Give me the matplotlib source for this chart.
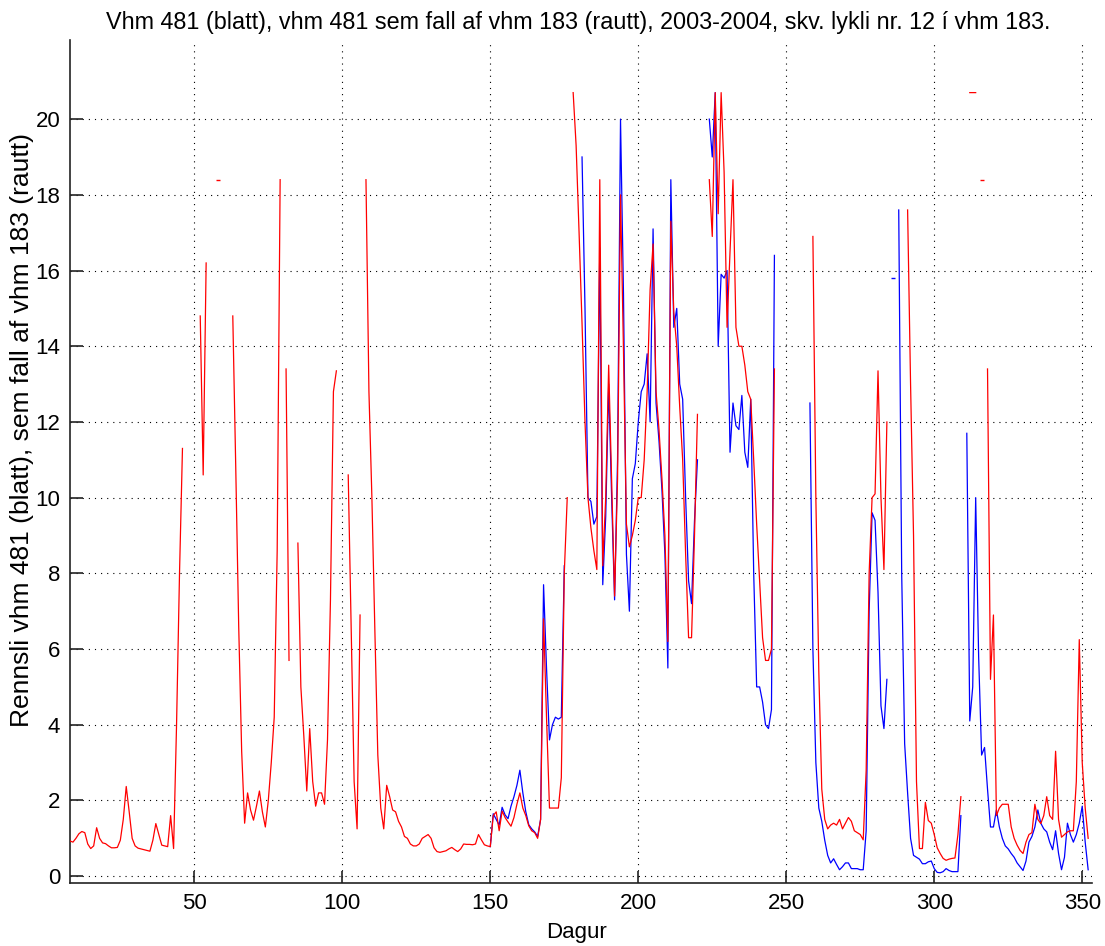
import numpy as np
import matplotlib
matplotlib.use("Agg")
import matplotlib.pyplot as plt

nan = np.nan

# ---- data (daily values) ----
red_start = 8
red = [
    0.93, 0.90, 1.00, 1.12, 1.18, 1.15, 0.85, 0.73, 0.80, 1.28,   # 8-17
    1.00, 0.88, 0.86, 0.80, 0.75, 0.75, 0.76, 0.95, 1.50, 2.37,   # 18-27
    1.70, 1.00, 0.80, 0.74, 0.72, 0.70, 0.68, 0.66, 0.95, 1.39,   # 28-37
    1.10, 0.82, 0.80, 0.78, 1.60, 0.73, 4.00, 8.00, 11.30, nan,   # 38-47
    nan, nan, nan, nan, 14.8, 10.6, 16.2, nan, nan, nan,          # 48-57
    18.4, nan, nan, nan, nan, 14.8, 10.8, 6.6, 3.3, 1.4,          # 58-67
    2.2, 1.75, 1.48, 1.85, 2.25, 1.7, 1.3, 2.0, 3.0, 4.2,         # 68-77
    8.6, 18.4, nan, 13.4, 5.7, nan, nan, 8.8, 5.0, 3.7,           # 78-87
    2.25, 3.9, 2.5, 1.85, 2.2, 2.2, 1.9, 3.6, 7.3, 12.8,          # 88-97
    13.35, nan, nan, nan, 10.6, 6.5, 2.5, 1.25, 6.9, nan,         # 98-107
    18.4, 12.8, 10.0, 6.5, 3.2, 1.8, 1.25, 2.4, 2.1, 1.75,        # 108-117
    1.7, 1.45, 1.3, 1.05, 1.0, 0.85, 0.8, 0.8, 0.85, 1.0,         # 118-127
    1.05, 1.1, 1.0, 0.75, 0.65, 0.63, 0.65, 0.67, 0.72, 0.76,     # 128-137
    0.70, 0.65, 0.72, 0.85, 0.84, 0.84, 0.83, 0.85, 1.10, 0.96,   # 138-147
    0.83, 0.80, 0.78, 1.6, 1.7, 1.2, 1.72, 1.55, 1.43, 1.32,      # 148-157
    1.55, 1.9, 2.2, 1.8, 1.6, 1.33, 1.2, 1.15, 1.0, 1.5,          # 158-167
    6.8, 4.2, 1.8, 1.8, 1.8, 1.8, 2.6, 8.0, 10.0, nan,            # 168-177
    20.7, 19.3, 17.0, 14.6, 12.0, 10.0, 9.2, 8.6, 8.1, 18.4,      # 178-187
    8.2, 10.0, 13.5, 10.5, 7.4, 10.5, 18.0, 13.9, 9.3, 8.7,       # 188-197
    9.0, 9.4, 10.0, 10.0, 11.0, 12.8, 15.5, 16.7, 12.8, 11.8,     # 198-207
    10.5, 9.0, 6.2, 17.3, 14.9, 14.0, 12.4, 11.0, 8.5, 6.3,       # 208-217
    6.3, 9.0, 12.2, nan, nan, nan, 18.4, 16.9, 20.7, 17.5,        # 218-227
    20.7, 18.6, 14.5, 16.5, 18.4, 14.5, 14.0, 14.0, 13.5, 12.8,   # 228-237
    12.6, 11.0, 9.3, 7.8, 6.3, 5.7, 5.7, 6.0, 13.4, nan,          # 238-247
    nan, nan, nan, nan, nan, nan, nan, nan, nan, nan,             # 248-257
    nan, 16.9, 10.0, 5.4, 2.3, 1.5, 1.25, 1.35, 1.4, 1.35,        # 258-267
    1.5, 1.25, 1.4, 1.55, 1.45, 1.2, 1.15, 1.1, 0.96, 2.8,        # 268-277
    8.0, 10.0, 10.1, 13.35, 10.0, 8.1, 12.0, nan, nan, nan,       # 278-287
    nan, nan, nan, 17.6, 13.0, 9.0, 2.5, 0.73, 0.73, 1.95,        # 288-297
    1.47, 1.4, 1.1, 0.75, 0.6, 0.47, 0.42, 0.45, 0.47, 0.48,      # 298-307
    1.1, 2.1, nan, nan, 20.7, 20.7, 20.7, nan, 18.4, nan,         # 308-317
    13.4, 5.2, 6.9, 1.6, 1.8, 1.9, 1.9, 1.9, 1.3, 1.0,            # 318-327
    0.82, 0.68, 0.6, 0.9, 1.1, 1.15, 1.9, 1.5, 1.39, 1.6,         # 328-337
    2.1, 1.6, 1.5, 3.3, 1.5, 1.03, 1.1, 1.17, 1.2, 1.2,           # 338-347
    2.5, 6.25, 3.0, 1.8, 1.0,                                     # 348-352
]

blue_start = 150
blue = [
    0.78, 1.65, 1.5, 1.35, 1.82, 1.62, 1.52, 1.85, 2.1, 2.4,      # 150-159
    2.8, 2.2, 1.7, 1.36, 1.25, 1.17, 1.05, 1.5, 7.7, 5.5,         # 160-169
    3.6, 4.0, 4.2, 4.15, 4.2, 8.2, nan, nan, nan, nan,            # 170-179
    nan, 19.0, 15.0, 10.0, 9.9, 9.3, 9.5, 16.6, 7.7, 9.5,         # 180-189
    13.0, 10.0, 7.3, 11.0, 20.0, 15.4, 8.5, 7.0, 10.5, 10.9,      # 190-199
    12.0, 12.8, 13.0, 13.8, 12.0, 17.1, 12.5, 11.5, 10.2, 8.5,    # 200-209
    5.5, 18.4, 14.5, 15.0, 13.0, 12.6, 10.0, 7.8, 7.2, 9.4,       # 210-219
    11.0, nan, nan, nan, 20.0, 19.0, 20.7, 14.0, 15.9, 15.8,      # 220-229
    16.0, 11.2, 12.5, 11.9, 11.8, 12.7, 11.2, 10.8, 12.6, 8.0,    # 230-239
    5.0, 5.0, 4.6, 4.0, 3.9, 4.4, 16.4, nan, nan, nan,            # 240-249
    nan, nan, nan, nan, nan, nan, nan, nan, 12.5, 6.0,            # 250-259
    3.0, 1.8, 1.45, 0.95, 0.55, 0.35, 0.46, 0.31, 0.17, 0.25,     # 260-269
    0.35, 0.35, 0.2, 0.2, 0.2, 0.17, 0.17, 1.2, 7.0, 9.6,         # 270-279
    9.4, 7.5, 4.5, 3.9, 5.2, nan, 15.8, nan, 17.6, 8.0,           # 280-289
    3.5, 2.2, 1.0, 0.55, 0.5, 0.45, 0.33, 0.33, 0.38, 0.4,        # 290-299
    0.2, 0.1, 0.09, 0.12, 0.2, 0.15, 0.12, 0.12, 0.12, 1.6,       # 300-309
    nan, 11.7, 4.1, 5.0, 10.0, 5.8, 3.2, 3.4, 2.3, 1.3,           # 310-319
    1.3, 1.75, 1.3, 1.0, 0.8, 0.72, 0.6, 0.5, 0.35, 0.25,         # 320-329
    0.15, 0.4, 0.9, 1.05, 1.3, 1.75, 1.4, 1.25, 1.17, 0.9,        # 330-339
    0.7, 1.2, 0.6, 0.17, 0.5, 1.4, 1.1, 0.9, 1.1, 1.4,            # 340-349
    1.85, 0.9, 0.17,                                              # 350-352
]

title = "Vhm 481 (blatt), vhm 481 sem fall af vhm 183 (rautt), 2003-2004, skv. lykli nr. 12 í vhm 183."
xlabel = "Dagur"
ylabel = "Rennsli vhm 481 (blatt), sem fall af vhm 183 (rautt)"
xticks = [50, 100, 150, 200, 250, 300, 350]
yticks = [0, 2, 4, 6, 8, 10, 12, 14, 16, 18, 20]

# ---- figure ----
plt.rcParams['font.family'] = ['Liberation Sans', 'DejaVu Sans']
W, H = 1105, 946
fig = plt.figure(figsize=(W / 100, H / 100), dpi=100)
ax = fig.add_axes([70 / W, (H - 883) / H, (1092 - 70) / W, (883 - 40) / H])

xr = np.arange(red_start, red_start + len(red))
xb = np.arange(blue_start, blue_start + len(blue))
yr = np.array(red, dtype=float)
yb = np.array(blue, dtype=float)

ax.plot(xb, yb, color='#0000ff', lw=0.9, zorder=3)
ax.plot(xr, yr, color='#ff0000', lw=0.9, zorder=4)


def isolated(y):
    y = np.asarray(y)
    ok = np.isfinite(y)
    left = np.concatenate([[False], ok[:-1]])
    right = np.concatenate([ok[1:], [False]])
    return ok & ~left & ~right


ib = isolated(yb)
ir = isolated(yr)
ax.plot(xb[ib], yb[ib], ls='none', marker='_', ms=3, mew=1.0, color='#0000ff', zorder=3)
ax.plot(xr[ir], yr[ir], ls='none', marker='_', ms=2.5, mew=1.0, color='#ff0000', zorder=4)

ax.set_xlim(8, 353.3)
ax.set_ylim(-0.18, 22.09)
ax.set_xticks(xticks)
ax.set_yticks(yticks)
ax.set_xticklabels([str(v) for v in xticks])
ax.set_yticklabels([str(v) for v in yticks])

ax.grid(True, color='#000000', linestyle=(0, (1, 4.5)), linewidth=0.8, zorder=1)
for s in ['top', 'right']:
    ax.spines[s].set_visible(False)
for s in ['left', 'bottom']:
    ax.spines[s].set_linewidth(1.2)
    ax.spines[s].set_color('#222222')
ax.tick_params(direction='in', length=9, width=1.2, color='#222222',
               labelsize=16, pad=7)

fig.text(578 / W, 1 - 22 / H, title, ha='center', va='center', fontsize=16.8)
fig.text(577 / W, 1 - 932 / H, xlabel, ha='center', va='center', fontsize=16)
fig.text(22 / W, 1 - 430 / H, ylabel, ha='center', va='center', rotation=90, fontsize=19)

fig.savefig('out.png', dpi=100)
